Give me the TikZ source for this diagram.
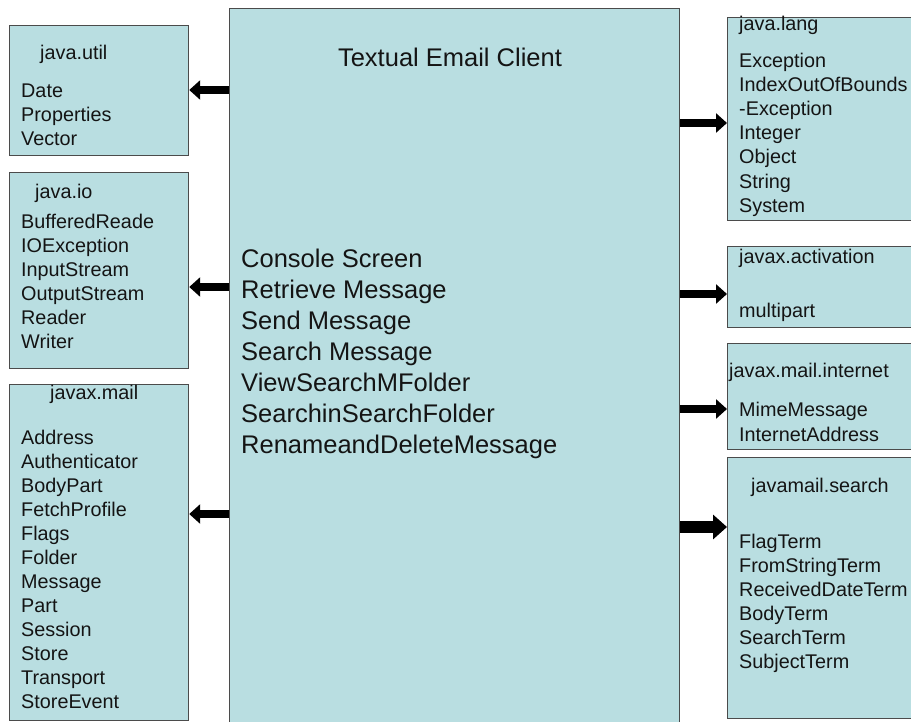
\documentclass[tikz,border=0pt]{standalone}
\usepackage{fontspec}
\setmainfont{Liberation Sans}
\usetikzlibrary{arrows.meta}
\definecolor{boxfill}{RGB}{185,222,225}
\definecolor{boxline}{RGB}{75,75,75}
\begin{document}
\begin{tikzpicture}[x=1bp,y=-1bp,
  pkgbox/.style={draw=boxline,fill=boxfill,line width=1.2bp,inner sep=0pt,anchor=north west},
  item/.style={anchor=base west,inner sep=0pt,text=black!92,font=\fontsize{19.8bp}{24bp}\selectfont},
  bigitem/.style={anchor=base west,inner sep=0pt,text=black!92,font=\fontsize{25.5bp}{31bp}\selectfont},
  blockarrow/.style={line width=8.5bp,black,-{Triangle[length=11bp,width=19bp]}},
  widearrow/.style={line width=12bp,black,-{Triangle[length=14bp,width=24bp]}}]

\useasboundingbox (0,0) rectangle (911,722);
\clip (0,0) rectangle (911,722);

% central component
\node[pkgbox,minimum width=450bp,minimum height=730bp] (main) at (229,8) {};
\node[bigitem,anchor=base] (title) at (450,67) {Textual Email Client};
\foreach \t [count=\i from 0] in {Console Screen,Retrieve Message,Send Message,Search Message,ViewSearchMFolder,SearchinSearchFolder,RenameandDeleteMessage}
  \node[bigitem] (func-\i) at (241,{267+31*\i}) {\t};

% packages on the left
\node[pkgbox,minimum width=179bp,minimum height=130bp] (util) at (9,25) {};
\node[item] (util-title) at (40,60) {java.util};
\foreach \t [count=\i from 0] in {Date,Properties,Vector}
  \node[item] (util-\i) at (21,{98+24*\i}) {\t};

\node[pkgbox,minimum width=179bp,minimum height=196bp] (io) at (9,172) {};
\node[item] (io-title) at (35,198) {java.io};
\foreach \t [count=\i from 0] in {BufferedReade,IOException,InputStream,OutputStream,Reader,Writer}
  \node[item] (io-\i) at (21,{228+24*\i}) {\t};

\node[pkgbox,minimum width=179bp,minimum height=336bp] (mail) at (9,384) {};
\node[item] (mail-title) at (50,399) {javax.mail};
\foreach \t [count=\i from 0] in {Address,Authenticator,BodyPart,FetchProfile,Flags,Folder,Message,Part,Session,Store,Transport,StoreEvent}
  \node[item] (mail-\i) at (21,{444+24.05*\i}) {\t};

% packages on the right
\node[pkgbox,minimum width=200bp,minimum height=203bp] (lang) at (727,17) {};
\node[item] (lang-title) at (739,31) {java.lang};
\foreach \t [count=\i from 0] in {Exception,IndexOutOfBounds,-Exception,Integer,Object,String,System}
  \node[item] (lang-\i) at (739,{68+24*\i}) {\t};

\node[pkgbox,minimum width=200bp,minimum height=81bp] (act) at (727,246) {};
\node[item] (act-title) at (739,263) {javax.activation};
\node[item] (act-0) at (739,317) {multipart};

\node[pkgbox,minimum width=200bp,minimum height=106bp] (inet) at (727,343) {};
\node[item] (inet-title) at (729,377) {javax.mail.internet};
\node[item] (inet-0) at (739,416) {MimeMessage};
\node[item] (inet-1) at (739,441) {InternetAddress};

\node[pkgbox,minimum width=200bp,minimum height=261bp] (search) at (727,457) {};
\node[item] (search-title) at (751,492) {javamail.search};
\foreach \t [count=\i from 0] in {FlagTerm,FromStringTerm,ReceivedDateTerm,BodyTerm,SearchTerm,SubjectTerm}
  \node[item] (search-\i) at (739,{548+24.1*\i}) {\t};

% dependencies
\draw[blockarrow] (main.west |- 0,90)  -- (util.east |- 0,90);
\draw[blockarrow] (main.west |- 0,287) -- (io.east |- 0,287);
\draw[blockarrow] (main.west |- 0,514) -- (mail.east |- 0,514);
\draw[blockarrow] (main.east |- 0,123) -- (lang.west |- 0,123);
\draw[blockarrow] (main.east |- 0,294) -- (act.west |- 0,294);
\draw[blockarrow] (main.east |- 0,409) -- (inet.west |- 0,409);
\draw[widearrow]  (main.east |- 0,527) -- (search.west |- 0,527);
\end{tikzpicture}
\end{document}
